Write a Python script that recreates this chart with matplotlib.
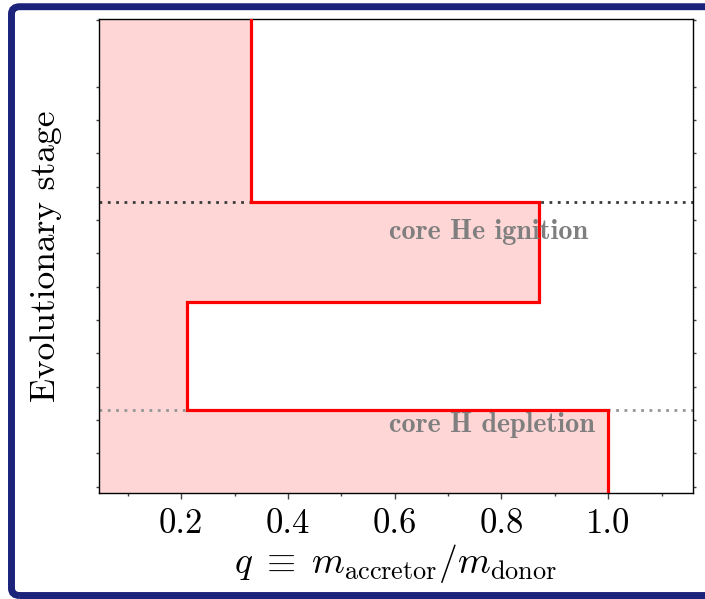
import matplotlib
matplotlib.use('Agg')
import matplotlib.pyplot as plt
from matplotlib.patches import FancyBboxPatch

# stage boundaries (in tick units of the stage axis) and mass ratio in each stage
stage_edges = [-1.0, 2.30, 5.54, 8.53, 15.0]
q_values = [1.00, 0.21, 0.87, 0.33]

# marker lines for the events
event_y = [8.53, 2.30]
event_colors = ['#3a3a3a', '#959595']
event_labels = ['core He ignition', 'core H depletion']
label_x = [0.59, 0.59]
label_y = [7.64, 1.85]

plt.rcParams.update({
	'font.family': 'serif',
	'font.serif': ['cmr10'],
	'mathtext.fontset': 'cm',
	'axes.unicode_minus': False,
	'axes.formatter.use_mathtext': True,
})

fig = plt.figure(figsize=(7.05, 5.99), dpi=100)
ax = fig.add_axes([0.1404, 0.1776, 0.8419, 0.7907])

# pink fill, one block per stage (gives the faint seams between stages)
for i in range(len(q_values)):
	ax.fill_betweenx([stage_edges[i], stage_edges[i + 1]], 0, q_values[i],
		color='red', alpha=0.16, lw=0)

# dotted event lines
for y, c in zip(event_y, event_colors):
	ax.axhline(y, color=c, lw=2.0, linestyle=(0, (1, 2)), zorder=2)

# step outline
xs, ys = [], []
for i in range(len(q_values)):
	xs += [q_values[i], q_values[i]]
	ys += [stage_edges[i], stage_edges[i + 1]]
ax.plot(xs, ys, color='red', lw=2.3, zorder=3, solid_joinstyle='miter')

for t, x, y in zip(event_labels, label_x, label_y):
	ax.text(x, y, t, fontfamily='cmb10', fontsize=20.3, color='#7f7f7f',
		ha='left', va='center', zorder=4)

ax.set_xlim(0.046, 1.158)
ax.set_ylim(-0.18, 14.03)
ax.set_xticks([0.2, 0.4, 0.6, 0.8, 1.0])
ax.set_xticklabels(['0.2', '0.4', '0.6', '0.8', '1.0'])
ax.set_xticks([0.1, 0.3, 0.5, 0.7, 0.9, 1.1], minor=True)
ax.set_yticks([0, 1, 2, 3, 4, 5, 6, 7, 8, 9, 10, 11, 12, 14])
ax.tick_params(axis='x', which='major', length=4, width=1, color='#444444',
	labelsize=25, pad=7)
ax.tick_params(axis='x', which='minor', length=2.5, width=1, color='#444444')
ax.tick_params(axis='y', which='major', length=2.5, width=1, color='#444444',
	left=True, right=True, labelleft=False)
for s in ax.spines.values():
	s.set_linewidth(1.0)

ax.set_xlabel(r'$q\;\equiv\;m_{\rm accretor}/m_{\rm donor}$', fontsize=27, labelpad=2)
ax.set_ylabel('Evolutionary stage', fontsize=25.5, labelpad=24)

# dark blue frame around the panel
frame = FancyBboxPatch((0.0163, 0.0058), 1.03, 0.983,
	boxstyle='round,pad=0,rounding_size=0.012', transform=fig.transFigure,
	facecolor='none', edgecolor='#1b237b', lw=5.0, zorder=10)
fig.patches.append(frame)

plt.savefig('out.png', dpi=100)
